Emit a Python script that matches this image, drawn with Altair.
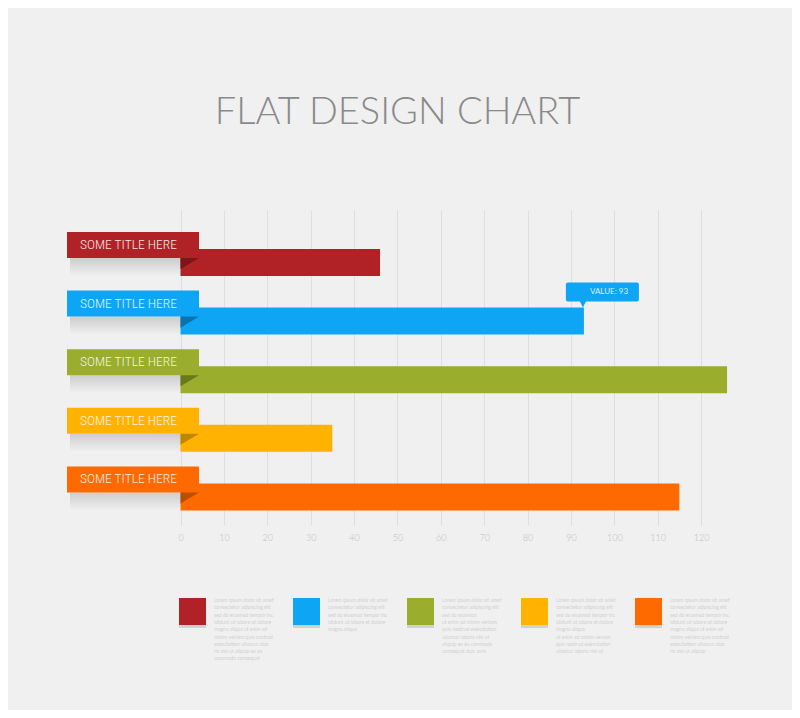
import altair as alt
import pandas as pd

# ---------------- data ----------------
TITLE = "FLAT DESIGN CHART"
labels = ["SOME TITLE HERE"] * 5
values = [46, 93, 126, 35, 115]
colors = ["#b12226", "#0ea5f4", "#9aad2c", "#ffb300", "#ff6a00"]
fold_colors = ["#7a1518", "#0a73ad", "#6a781c", "#bf8600", "#bc4e00"]
ticks = [0, 10, 20, 30, 40, 50, 60, 70, 80, 90, 100, 110, 120]
callout_index = 1
callout_text = "VALUE: 93"
legend_texts = [
    "Lorem ipsum dolor sit amet\nconsectetur adipiscing elit\nsed do eiusmod tempor inc\nididunt ut labore et dolore\nmagna aliqua ut enim ad\nminim veniam quis nostrud\nexercitation ullamco labo\nris nisi ut aliquip ex ea\ncommodo consequat",
    "Lorem ipsum dolor sit amet\nconsectetur adipiscing elit\nsed do eiusmod tempor inc\nididunt ut labore et dolore\nmagna aliqua",
    "Lorem ipsum dolor sit amet\nconsectetur adipiscing elit\nsed do eiusmod\n\nut enim ad minim veniam\nquis nostrud exercitation\nullamco laboris nisi ut\naliquip ex ea commodo\nconsequat duis aute",
    "Lorem ipsum dolor sit amet\nconsectetur adipiscing elit\nsed do eiusmod tempor inc\nididunt ut labore et dolore\nmagna aliqua\n\nut enim ad minim veniam\nquis nostrud exercitation\nullamco laboris nisi ut",
    "Lorem ipsum dolor sit amet\nconsectetur adipiscing elit\nsed do eiusmod tempor inc\nididunt ut labore et dolore\nmagna aliqua ut enim ad\nminim veniam quis nostrud\nexercitation ullamco labo\nris nisi ut aliquip",
]

# ---------------- layout constants ----------------
W, H = 681, 315
X_MIN, X_MAX = -26.17, 130.83
Y_MIN, Y_MAX = -0.896, 4.479
ux = (X_MAX - X_MIN) / W       # units per pixel (x)
uy = (Y_MAX - Y_MIN) / H       # units per pixel (y)

idx = list(range(len(values)))
bars = pd.DataFrame({
    "idx": idx, "label": labels, "value": values,
    "color": colors, "fold": fold_colors,
})
bars["x0"] = 0.0
bars["y_lo"] = bars["idx"] - 13.5 * uy
bars["y_hi"] = bars["idx"] + 13.5 * uy
bars["rx0"] = X_MIN
bars["rx1"] = 18.5 * ux
bars["ry_lo"] = bars["idx"] - 30.5 * uy
bars["ry_hi"] = bars["idx"] - 4.5 * uy
bars["ry_mid"] = bars["idx"] - 17.5 * uy
bars["sx0"] = X_MIN + 3 * ux
bars["sy_hi"] = bars["ry_hi"] + 18 * uy
bars["fx"] = 9.25 * ux
bars["fy"] = bars["ry_hi"] + 5.5 * uy

cv = values[callout_index]
call = pd.DataFrame({
    "cx0": [cv - 18 * ux], "cx1": [cv + 55 * ux],
    "cy0": [callout_index - 38.5 * uy], "cy1": [callout_index - 19.5 * uy],
    "px": [cv - 1 * ux], "py": [callout_index - 17.5 * uy],
    "tx": [cv + 6 * ux], "ty": [callout_index - 29 * uy],
    "text": [callout_text], "color": [colors[callout_index]],
})

leg = pd.DataFrame({"k": idx, "color": colors, "text": legend_texts})
leg["lx"] = 12 * ux + leg["k"] * 114 * ux
leg["ly"] = 349 * uy
leg["sy"] = leg["ly"] + 3 * uy
leg["tx"] = leg["lx"] + 21.5 * ux
leg["ty"] = leg["ly"] - 13.5 * uy

# ---------------- scales / axes ----------------
xs = alt.Scale(domain=[X_MIN, X_MAX], nice=False, zero=False)
ys = alt.Scale(domain=[Y_MIN, Y_MAX], nice=False, zero=False, reverse=True)
x_axis = alt.Axis(values=ticks, grid=True, gridColor="#dedede", gridWidth=1,
                  ticks=False, domain=False, labelColor="#bdbdbd",
                  labelFont="Lato", labelFontSize=9, labelFontWeight=300,
                  labelPadding=8, title=None)


def X(f):
    return alt.X(f, type="quantitative", scale=xs, axis=x_axis)


def Y(f):
    return alt.Y(f, type="quantitative", scale=ys, axis=None)


ident = lambda f: alt.Color(f, type="nominal", scale=None, legend=None)

base = alt.Chart(bars)

bar_layer = base.mark_rect().encode(
    x=X("x0"), x2="value", y=Y("y_lo"), y2="y_hi", color=ident("color"))

shadow = base.mark_rect(
    fill=alt.Gradient(gradient="linear", x1=0, y1=0, x2=0, y2=1,
                      stops=[alt.GradientStop(color="rgba(0,0,0,0.15)", offset=0),
                             alt.GradientStop(color="rgba(0,0,0,0)", offset=1)])
).encode(x=X("sx0"), x2="x0", y=Y("ry_hi"), y2="sy_hi")

ribbon = base.mark_rect().encode(
    x=X("rx0"), x2="rx1", y=Y("ry_lo"), y2="ry_hi", color=ident("color"))

ribbon_text = base.mark_text(
    align="left", baseline="middle", dx=13, fontSize=13.5,
    font="Roboto Condensed, Liberation Sans Narrow, Roboto, sans-serif",
    fontWeight=300, color="white", opacity=0.88
).encode(x=X("rx0"), y=Y("ry_mid"), text="label:N")

fold = base.mark_point(
    shape="M-1,-0.6 L1,-0.6 L-1,0.6 Z", size=342, filled=True, opacity=1
).encode(x=X("fx"), y=Y("fy"), color=ident("fold"))

cbase = alt.Chart(call)
c_rect = cbase.mark_rect(cornerRadius=2).encode(
    x=X("cx0"), x2="cx1", y=Y("cy0"), y2="cy1", color=ident("color"))
c_ptr = cbase.mark_point(
    shape="M-1,-1 L1,-1 L0,1 Z", size=64, filled=True, opacity=1
).encode(x=X("px"), y=Y("py"), color=ident("color"))
c_text = cbase.mark_text(
    align="left", baseline="middle", fontSize=8, font="Lato", color="#d8f0ff"
).encode(x=X("tx"), y=Y("ty"), text="text:N")

lbase = alt.Chart(leg)
l_shadow = lbase.mark_square(size=729, filled=True, opacity=0.22, color="#666666").encode(
    x=X("lx"), y=Y("sy"))
l_sq = lbase.mark_square(size=729, filled=True, opacity=1).encode(
    x=X("lx"), y=Y("ly"), color=ident("color"))
l_text = lbase.mark_text(
    align="left", baseline="top", fontSize=5, lineHeight=7.3, lineBreak="\n",
    font="Lato", color="#d0d0d0"
).encode(x=X("tx"), y=Y("ty"), text="text:N")

chart = alt.layer(
    bar_layer, shadow, ribbon, ribbon_text, fold, c_rect, c_ptr, c_text,
    l_shadow, l_sq, l_text
).properties(
    width=W, height=H,
    title=alt.TitleParams(TITLE, fontSize=38, font="Lato", fontWeight=300,
                          color="#8a8a8a", anchor="middle", offset=78, dx=-10),
    autosize=alt.AutoSizeParams(type="none"),
    padding={"left": 59, "top": 202, "right": 44, "bottom": 185},
    background="#f0f0f0",
).configure_view(stroke=None)

chart.save("out.html", embed_options={"renderer": "svg", "actions": False})
